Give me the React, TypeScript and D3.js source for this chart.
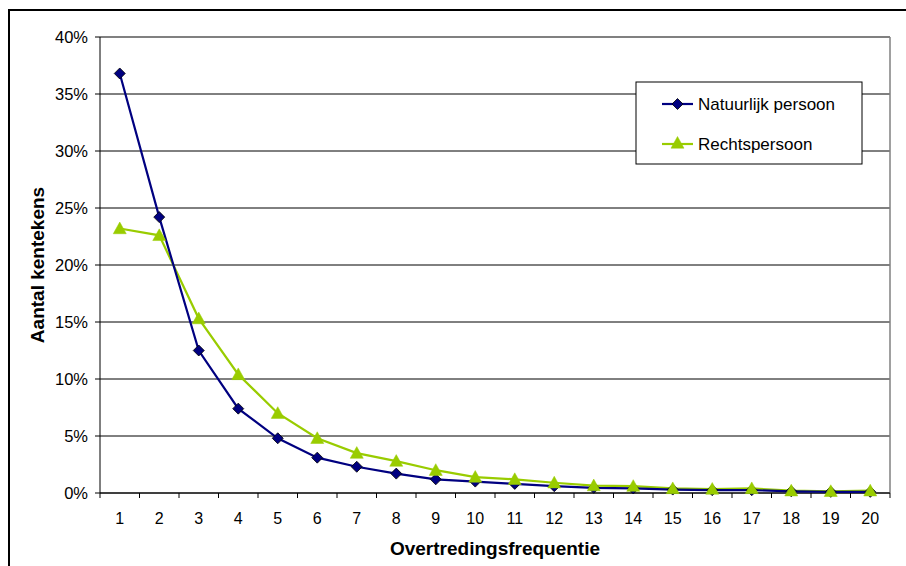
import React from "react";
import * as d3 from "d3";

const categories = ["1","2","3","4","5","6","7","8","9","10","11","12","13","14","15","16","17","18","19","20"];
const natuurlijk = [36.8,24.2,12.5,7.4,4.8,3.1,2.3,1.7,1.2,1.0,0.8,0.6,0.45,0.4,0.3,0.25,0.25,0.15,0.1,0.1];
const rechts = [23.2,22.6,15.3,10.4,7.0,4.8,3.5,2.8,2.0,1.4,1.2,0.9,0.65,0.6,0.4,0.35,0.4,0.2,0.15,0.2];
const yTicks = [0,5,10,15,20,25,30,35,40];
const seriesNames = ["Natuurlijk persoon","Rechtspersoon"];

const W = 906, H = 566;
const L = 100, R = 890, T = 37, B = 493;
const font = "Arial, 'Liberation Sans', sans-serif";

export default function App() {
  const x = d3.scaleBand().domain(categories).range([L, R]);
  const y = d3.scaleLinear().domain([0, 40]).range([B, T]);
  const cx = (i: number) => (x(categories[i]) as number) + x.bandwidth() / 2;
  const line = d3.line<number>().x((_, i) => cx(i)).y((d) => y(d));
  const diamond = (px: number, py: number, s = 5.5) => `M${px},${py - s}L${px + s},${py}L${px},${py + s}L${px - s},${py}Z`;
  const tri = (px: number, py: number, s = 6.5) => `M${px},${py - s}L${px + s},${py + s * 0.8}L${px - s},${py + s * 0.8}Z`;
  const navy = "#000080", green = "#99CC00";
  const bounds = [...categories.map((c) => x(c) as number), R];
  return (
    <svg width={W} height={H} style={{ position: "absolute", left: 0, top: 0, background: "#fff" }} fontFamily={font}>
      <rect x={9} y={10} width={W + 10} height={H + 10} fill="#fff" stroke="#000" strokeWidth={2} />
      {yTicks.map((t) => (
        <g key={t}>
          <line x1={L} x2={R} y1={y(t)} y2={y(t)} stroke="#000" strokeWidth={1} />
          <line x1={L - 5} x2={L} y1={y(t)} y2={y(t)} stroke="#000" />
          <text x={88} y={y(t)} dy="0.35em" textAnchor="end" fontSize={16.5}>{t}%</text>
        </g>
      ))}
      <line x1={R} x2={R} y1={T} y2={B} stroke="#808080" strokeWidth={1.5} />
      <line x1={L} x2={R} y1={T} y2={T} stroke="#808080" strokeWidth={1.5} />
      <line x1={L} x2={L} y1={T} y2={B} stroke="#000" />
      <line x1={L} x2={R} y1={B} y2={B} stroke="#000" />
      {bounds.map((b, i) => (
        <line key={i} x1={b} x2={b} y1={B} y2={B + 5} stroke="#000" />
      ))}
      {categories.map((c, i) => (
        <text key={c} x={cx(i)} y={524} textAnchor="middle" fontSize={16}>{c}</text>
      ))}
      <path d={line(rechts) as string} fill="none" stroke={green} strokeWidth={2.2} />
      <path d={line(natuurlijk) as string} fill="none" stroke={navy} strokeWidth={2.2} />
      {natuurlijk.map((v, i) => (
        <path key={"n" + i} d={diamond(cx(i), y(v))} fill={navy} stroke="#000" strokeWidth={0.8} />
      ))}
      {rechts.map((v, i) => (
        <path key={"r" + i} d={tri(cx(i), y(v))} fill={green} stroke={green} strokeWidth={0.5} />
      ))}
      <text x={495} y={555} textAnchor="middle" fontSize={19} fontWeight="bold">Overtredingsfrequentie</text>
      <text transform={`translate(44,265) rotate(-90)`} textAnchor="middle" fontSize={19} fontWeight="bold">Aantal kentekens</text>
      <rect x={636} y={82} width={226} height={82} fill="#fff" stroke="#000" strokeWidth={1} />
      {seriesNames.map((n, i) => {
        const ly = 104 + i * 40;
        const col = i === 0 ? navy : green;
        return (
          <g key={n}>
            <line x1={662} x2={693} y1={ly} y2={ly} stroke={col} strokeWidth={2.2} />
            {i === 0 ? (
              <path d={diamond(677.5, ly)} fill={navy} stroke="#000" strokeWidth={0.8} />
            ) : (
              <path d={tri(677.5, ly - 1)} fill={green} stroke={green} strokeWidth={0.5} />
            )}
            <text x={698} y={ly} dy="0.35em" fontSize={17}>{n}</text>
          </g>
        );
      })}
    </svg>
  );
}
